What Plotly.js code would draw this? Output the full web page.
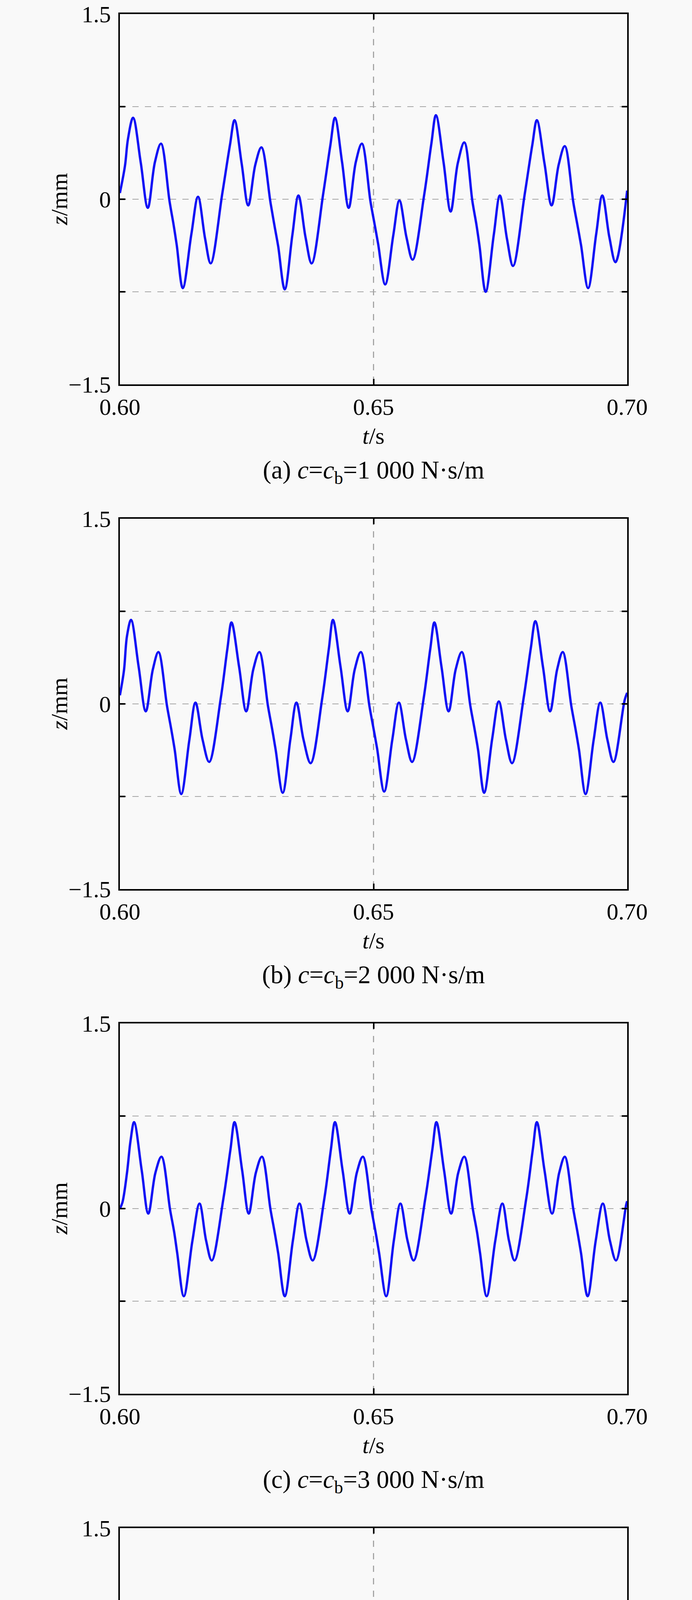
<!DOCTYPE html>
<html>
<head>
<meta charset="utf-8">
<script src="https://cdn.plot.ly/plotly-3.0.1.min.js"></script>
<style>
  html, body { margin: 0; padding: 0; background: #f9f9f9; }
  #chart { width: 1772px; height: 5139px; }
</style>
</head>
<body>
<div id="chart"></div>
<script>

// z(t) (t in s, z in mm)
var t_a = [0.6000,0.6010,0.6016,0.6026,0.6041,0.6055,0.6069,0.6081,0.6098,0.6106,0.6112,0.6124,0.6141,0.6154,0.6168,0.6179,0.6202,0.6217,
           0.6226,0.6240,0.6253,0.6267,0.6279,0.6297,0.6305,0.6312,0.6325,0.6340,0.6352,0.6366,0.6378,0.6401,0.6415,
           0.6424,0.6438,0.6451,0.6465,0.6477,0.6494,0.6502,0.6509,0.6523,0.6539,0.6551,0.6565,0.6577,0.6600,0.6614,
           0.6623,0.6638,0.6652,0.6666,0.6679,0.6695,0.6703,0.6709,0.6721,0.6737,0.6749,0.6763,0.6775,0.6798,0.6813,
           0.6822,0.6837,0.6851,0.6865,0.6877,0.6894,0.6902,0.6909,0.6923,0.6939,0.6951,0.6965,0.6977,0.7000]
var z_a = [0.05,0.27,0.49,0.66,0.30,-0.07,0.30,0.45,-0.02,-0.21,-0.37,-0.72,-0.28,0.02,-0.32,-0.52,0.05,0.44,
           0.64,0.29,-0.05,0.28,0.42,-0.03,-0.22,-0.38,-0.73,-0.29,0.03,-0.31,-0.52,0.05,0.44,
           0.66,0.30,-0.07,0.30,0.45,-0.02,-0.20,-0.36,-0.69,-0.29,-0.01,-0.31,-0.49,0.04,0.45,
           0.68,0.30,-0.10,0.29,0.46,-0.02,-0.21,-0.38,-0.75,-0.29,0.03,-0.32,-0.54,0.04,0.44,
           0.64,0.29,-0.05,0.28,0.43,-0.03,-0.21,-0.37,-0.72,-0.28,0.03,-0.31,-0.51,0.07]

var t_b = [0.6000,0.6008,0.6014,0.6022,0.6037,0.6051,0.6065,0.6076,0.6093,0.6101,0.6108,0.6121,0.6137,0.6149,0.6163,0.6176,0.6199,0.6212,
           0.6220,0.6235,0.6249,0.6263,0.6275,0.6292,0.6300,0.6307,0.6321,0.6336,0.6348,0.6362,0.6376,0.6399,0.6412,
           0.6420,0.6435,0.6449,0.6463,0.6475,0.6492,0.6500,0.6507,0.6521,0.6537,0.6550,0.6564,0.6576,0.6599,0.6612,
           0.6620,0.6634,0.6648,0.6662,0.6674,0.6691,0.6699,0.6706,0.6718,0.6734,0.6747,0.6761,0.6773,0.6796,0.6810,
           0.6819,0.6834,0.6848,0.6862,0.6873,0.6890,0.6898,0.6905,0.6918,0.6934,0.6947,0.6961,0.6973,0.6995,0.7000]
var z_b = [0.07,0.27,0.55,0.68,0.30,-0.06,0.28,0.42,-0.02,-0.20,-0.37,-0.73,-0.29,0.01,-0.29,-0.47,0.05,0.45,
           0.66,0.30,-0.06,0.28,0.42,-0.02,-0.20,-0.37,-0.72,-0.29,0.01,-0.29,-0.48,0.05,0.45,
           0.68,0.30,-0.06,0.28,0.42,-0.02,-0.20,-0.36,-0.71,-0.29,0.01,-0.29,-0.47,0.05,0.45,
           0.66,0.30,-0.06,0.28,0.42,-0.02,-0.20,-0.37,-0.72,-0.28,0.02,-0.29,-0.48,0.05,0.45,
           0.67,0.30,-0.06,0.28,0.42,-0.02,-0.20,-0.37,-0.73,-0.29,0.01,-0.29,-0.47,0.03,0.09]

var t_c = [0.6000,0.6005,0.6014,0.6021,0.6028,0.6043,0.6056,0.6070,0.6082,0.6099,0.6107,0.6113,0.6126,0.6143,0.6157,0.6170,0.6181,0.6204,0.6218,
           0.6226,0.6241,0.6254,0.6268,0.6280,0.6297,0.6305,0.6312,0.6325,0.6341,0.6354,0.6368,0.6380,0.6403,0.6416,
           0.6424,0.6439,0.6453,0.6467,0.6479,0.6496,0.6504,0.6511,0.6525,0.6540,0.6553,0.6567,0.6579,0.6602,0.6616,
           0.6624,0.6639,0.6653,0.6667,0.6679,0.6696,0.6704,0.6710,0.6723,0.6740,0.6754,0.6767,0.6778,0.6801,0.6814,
           0.6822,0.6837,0.6852,0.6866,0.6877,0.6894,0.6902,0.6909,0.6922,0.6938,0.6952,0.6966,0.6978,0.6998,0.7000]
var z_c = [0.00,0.05,0.29,0.55,0.70,0.31,-0.04,0.29,0.42,-0.01,-0.19,-0.36,-0.71,-0.26,0.04,-0.26,-0.42,0.08,0.48,
           0.70,0.31,-0.04,0.29,0.42,-0.01,-0.19,-0.36,-0.71,-0.26,0.04,-0.26,-0.42,0.08,0.48,
           0.70,0.31,-0.04,0.29,0.42,-0.01,-0.19,-0.36,-0.71,-0.26,0.04,-0.26,-0.42,0.08,0.48,
           0.70,0.31,-0.04,0.29,0.42,-0.01,-0.19,-0.36,-0.71,-0.26,0.04,-0.26,-0.42,0.08,0.48,
           0.70,0.31,-0.04,0.29,0.42,-0.01,-0.19,-0.36,-0.71,-0.26,0.04,-0.26,-0.42,0.03,0.06]

var t_d = [0.6000,0.6008,0.6015,0.6023,0.6038,0.6052,0.6066,0.6078,0.6095,0.6103,0.6109,0.6122,0.6139,0.6152,0.6166,0.6178,0.6201,0.6215,
           0.6223,0.6238,0.6252,0.6266,0.6279,0.6296,0.6304,0.6310,0.6323,0.6339,0.6351,0.6366,0.6379,0.6402,0.6416,
           0.6424,0.6439,0.6453,0.6467,0.6479,0.6496,0.6504,0.6510,0.6524,0.6540,0.6553,0.6567,0.6580,0.6602,0.6616,
           0.6624,0.6639,0.6652,0.6666,0.6679,0.6696,0.6704,0.6710,0.6723,0.6739,0.6752,0.6766,0.6778,0.6801,0.6815,
           0.6824,0.6839,0.6853,0.6867,0.6879,0.6896,0.6904,0.6910,0.6922,0.6939,0.6953,0.6967,0.6979,0.6995]
var z_d = [0.00,0.30,0.52,0.70,0.30,-0.06,0.25,0.36,-0.03,-0.20,-0.37,-0.73,-0.26,0.01,-0.25,-0.39,0.00,0.47,
           0.70,0.30,-0.06,0.25,0.36,-0.03,-0.20,-0.37,-0.73,-0.26,0.01,-0.25,-0.39,0.00,0.47,
           0.70,0.30,-0.06,0.25,0.36,-0.03,-0.20,-0.37,-0.73,-0.26,0.02,-0.25,-0.39,0.00,0.47,
           0.70,0.30,-0.06,0.25,0.36,-0.03,-0.20,-0.37,-0.73,-0.26,0.02,-0.25,-0.39,0.00,0.47,
           0.70,0.30,-0.06,0.25,0.36,-0.03,-0.20,-0.37,-0.72,-0.26,0.01,-0.25,-0.40,-0.11]

var captions = ['(a) <i>c</i>=<i>c</i><sub>b</sub>=1 000 N·s/m',
                '(b) <i>c</i>=<i>c</i><sub>b</sub>=2 000 N·s/m',
                '(c) <i>c</i>=<i>c</i><sub>b</sub>=3 000 N·s/m',
                '(d) <i>c</i>=<i>c</i><sub>b</sub>=5 000 N·s/m']

var xTickVals = [0.60, 0.65, 0.70]
var xTickText = ['0.60', '0.65', '0.70']
var yTickVals = [-1.5, -0.75, 0, 0.75, 1.5]
var yTickText = ['\u22121.5', ' ', '0', ' ', '1.5']

var series = [[t_a, z_a], [t_b, z_b], [t_c, z_c], [t_d, z_d]]

// page geometry (px)
var W = 1772, H = 5139
var plotL = 307, plotR = 1606, plotH = 948
var panelTop = [36, 1328, 2620, 3912]
var font = 'Liberation Serif, Times New Roman, serif'
var bg = '#f9f9f9'

var data = []
var layout = {
    width: W,
    height: H,
    margin: {l: 0, r: 0, t: 0, b: 0},
    paper_bgcolor: bg,
    plot_bgcolor: bg,
    showlegend: false,
    font: {family: font, size: 60, color: '#000'},
    annotations: [],
}

function axisBase() {
    return {
        showline: true,
        linecolor: '#000',
        linewidth: 4,
        mirror: 'ticks',
        ticks: 'inside',
        ticklen: 14,
        tickwidth: 4,
        tickcolor: '#000',
        showgrid: true,
        gridcolor: '#a6a6a6',
        gridwidth: 2.5,
        griddash: '16px,16px',
        zeroline: false,
        fixedrange: true,
        tickfont: {family: font, size: 60, color: '#000'},
    }
}

for (var i = 0; i < 4; i++) {
    var n = (i == 0) ? '' : String(i + 1)
    var pTop = panelTop[i]
    var y0 = 1 - (pTop + plotH) / H
    var y1 = 1 - pTop / H

    data.push({
        type: 'scatter',
        mode: 'lines',
        x: series[i][0],
        y: series[i][1],
        xaxis: 'x' + n,
        yaxis: 'y' + n,
        line: {color: '#1010f5', width: 6, shape: 'spline', smoothing: 1},
        hoverinfo: 'skip',
    })

    var xa = axisBase()
    xa.domain = [plotL / W, plotR / W]
    xa.range = [0.60, 0.70]
    xa.anchor = 'y' + n
    xa.tickmode = 'array'
    xa.tickvals = xTickVals
    xa.ticktext = xTickText
    xa.ticklabelstandoff = 2
    layout['xaxis' + n] = xa

    var ya = axisBase()
    ya.domain = [y0, y1]
    ya.range = [-1.5, 1.5]
    ya.anchor = 'x' + n
    ya.tickmode = 'array'
    ya.tickvals = yTickVals
    ya.ticktext = yTickText
    ya.ticklabelstandoff = 7
    layout['yaxis' + n] = ya

    // axis titles and caption
    layout.annotations.push({
        xref: 'paper', yref: 'paper',
        x: 152 / W, y: 1 - (pTop + plotH / 2) / H,
        text: '<i>z</i>/mm', textangle: -90, showarrow: false,
        xanchor: 'center', yanchor: 'middle',
        font: {family: font, size: 60, color: '#000'},
    })
    layout.annotations.push({
        xref: 'paper', yref: 'paper',
        x: (plotL + plotR) / 2 / W, y: 1 - (pTop + 1080) / H,
        text: '<i>t</i>/s', showarrow: false,
        xanchor: 'center', yanchor: 'middle',
        font: {family: font, size: 60, color: '#000'},
    })
    layout.annotations.push({
        xref: 'paper', yref: 'paper',
        x: (plotL + plotR) / 2 / W, y: 1 - (pTop + 1172) / H,
        text: captions[i], showarrow: false,
        xanchor: 'center', yanchor: 'middle',
        font: {family: font, size: 65, color: '#000'},
    })
}

Plotly.newPlot('chart', data, layout, {displayModeBar: false, staticPlot: true})

</script>
</body>
</html>
